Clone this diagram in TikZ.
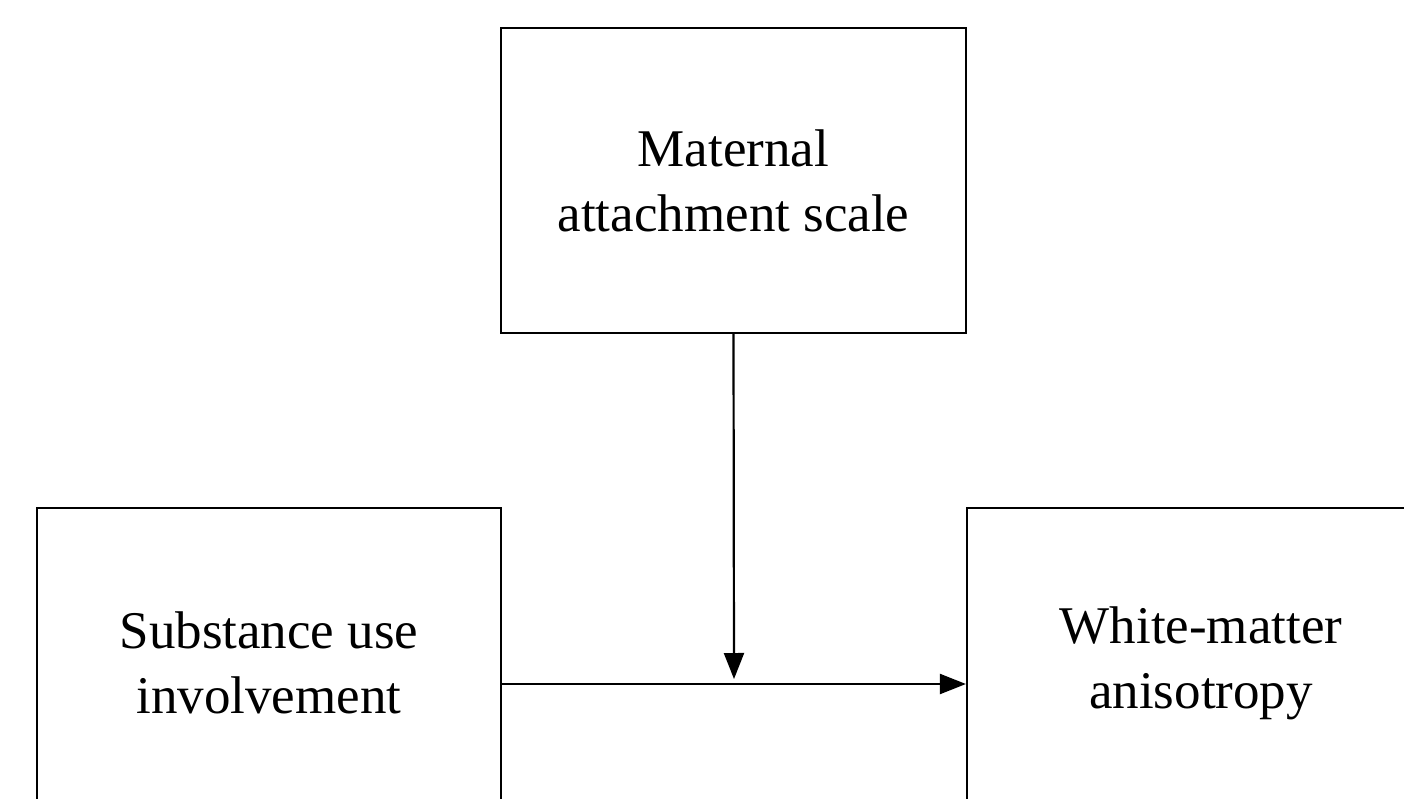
\documentclass[tikz,border=0pt]{standalone}
\usepackage{fontspec}
\setmainfont{Liberation Serif}
\usetikzlibrary{arrows.meta}
\begin{document}
\begin{tikzpicture}[x=1pt,y=-1pt,
  box/.style={draw=black, line width=2.2pt, align=center, inner sep=0pt,
    font=\fontsize{53}{65}\selectfont},
  conn/.style={line width=2.2pt, -{Triangle[length=26pt,width=20pt]}}]
\useasboundingbox (0,0) rectangle (1404,799);
\clip (0,0) rectangle (1404,799);
\fill[white] (0,0) rectangle (1404,799);
\node[box, minimum width=465pt, minimum height=305pt] (top) at (733.5,180.5) {Maternal\\attachment scale};
\node[box, minimum width=464pt, minimum height=310pt] (left) at (269,663) {Substance use\\involvement};
\node[box, minimum width=468pt, minimum height=310pt] (right) at (1201,663) {White-matter\\anisotropy};
\coordinate (mid) at (734,684);
\coordinate (j) at (734,679);
\draw[conn] (left.east |- mid) -- (right.west |- mid);
\draw[conn] (top.south) -- (j);
\end{tikzpicture}
\end{document}
